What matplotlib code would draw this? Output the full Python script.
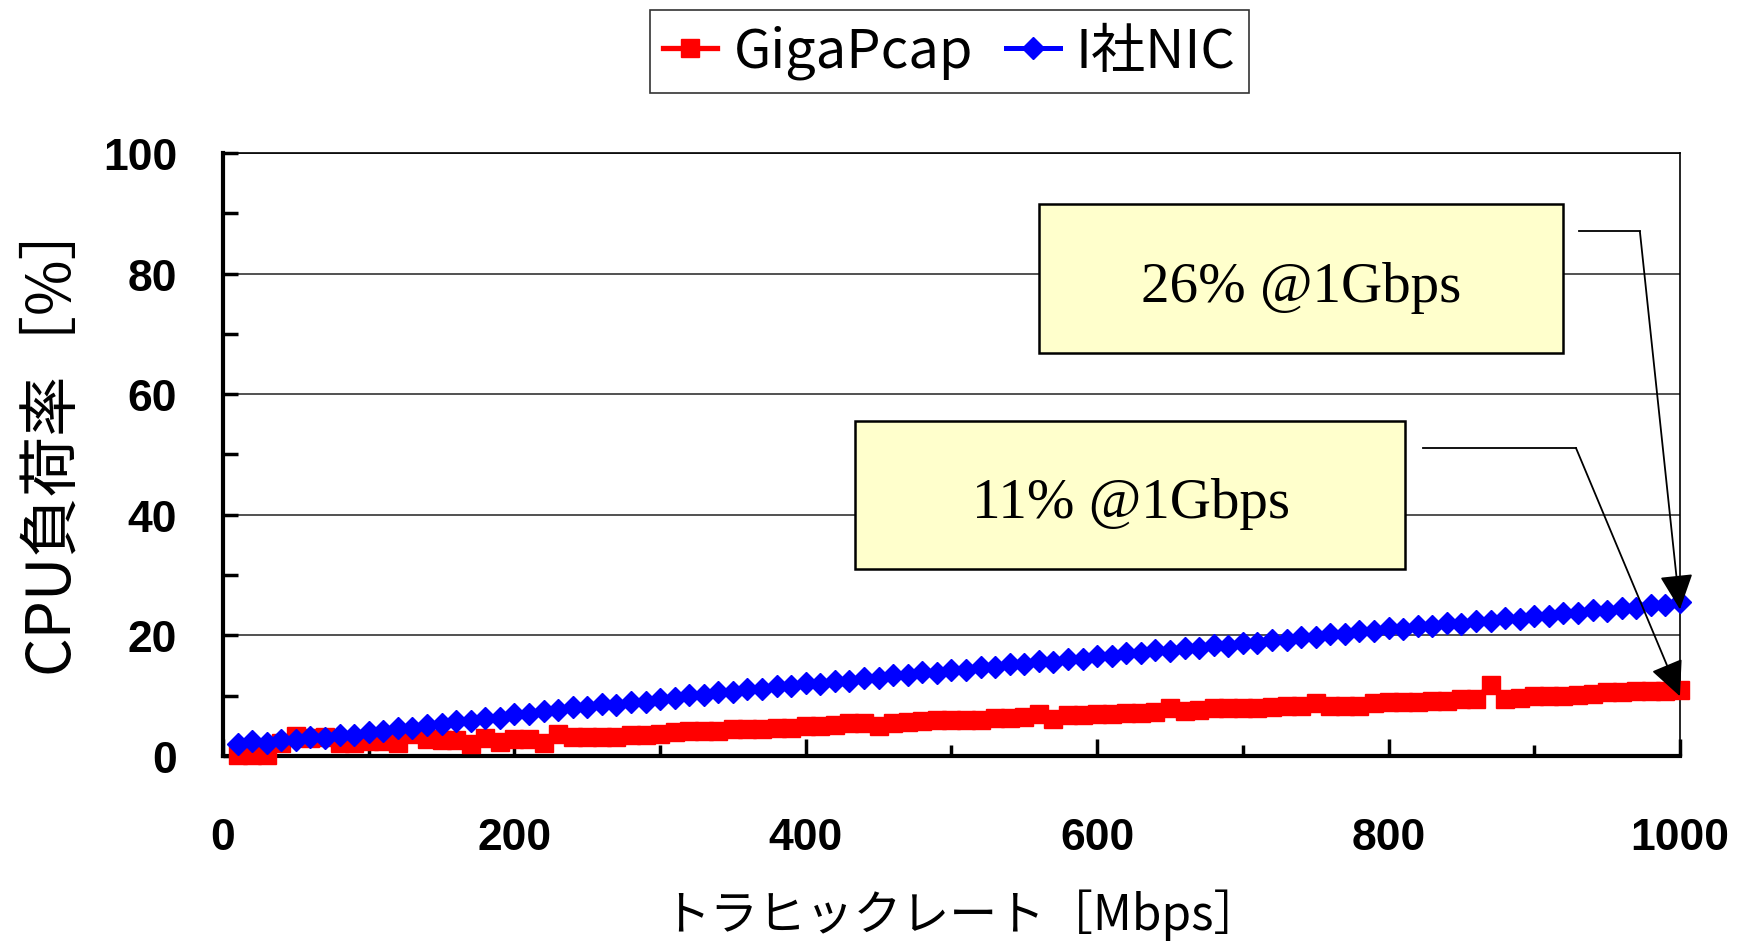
import matplotlib
matplotlib.use('Agg')
import matplotlib.pyplot as plt
from matplotlib.patches import Rectangle, FancyArrowPatch
from matplotlib.ticker import MultipleLocator
from matplotlib.font_manager import FontProperties

plt.rcParams['font.family'] = ['Noto Sans CJK JP', 'DejaVu Sans']

# traffic rate [Mbps], one sample every 10 Mbps
rate = list(range(10, 1001, 10))

gigapcap = [
    0.2, 0.2, 0.2, 2.2, 3.3, 3.0, 3.2, 2.2, 2.2, 2.5,
    2.5, 2.1, 3.6, 2.8, 2.7, 2.6, 1.9, 3.0, 2.3, 2.8,
    2.8, 2.1, 3.7, 3.1, 3.1, 3.1, 3.2, 3.5, 3.5, 3.7,
    4.0, 4.1, 4.2, 4.2, 4.4, 4.5, 4.5, 4.6, 4.6, 4.9,
    5.0, 5.2, 5.4, 5.4, 4.9, 5.5, 5.6, 5.8, 6.0, 6.0,
    6.0, 6.0, 6.3, 6.3, 6.4, 6.9, 6.1, 6.8, 6.8, 6.9,
    7.0, 7.2, 7.2, 7.3, 7.9, 7.5, 7.6, 7.9, 7.9, 8.0,
    8.0, 8.1, 8.3, 8.3, 8.8, 8.3, 8.3, 8.3, 8.7, 9.0,
    9.0, 9.0, 9.1, 9.1, 9.4, 9.5, 11.8, 9.5, 9.6, 10.0,
    10.0, 10.0, 10.1, 10.3, 10.6, 10.6, 10.7, 10.7, 10.7, 10.9,
]

inic = [
    2.0, 2.5, 2.2, 2.7, 2.6, 3.1, 3.0, 3.5, 3.4, 4.0,
    4.1, 4.6, 4.6, 5.2, 5.3, 5.8, 5.8, 6.3, 6.3, 6.9,
    7.0, 7.5, 7.6, 8.1, 8.1, 8.6, 8.5, 9.0, 9.0, 9.5,
    9.6, 10.1, 10.1, 10.6, 10.6, 11.1, 11.1, 11.6, 11.6, 12.1,
    12.0, 12.5, 12.5, 13.0, 12.9, 13.4, 13.4, 13.9, 13.8, 14.3,
    14.3, 14.8, 14.7, 15.2, 15.2, 15.7, 15.6, 16.1, 16.1, 16.6,
    16.5, 17.0, 17.0, 17.5, 17.4, 17.9, 17.9, 18.4, 18.3, 18.8,
    18.8, 19.3, 19.3, 19.8, 19.8, 20.3, 20.3, 20.8, 20.7, 21.2,
    21.1, 21.6, 21.5, 22.0, 21.9, 22.4, 22.3, 22.8, 22.7, 23.2,
    23.2, 23.7, 23.7, 24.2, 24.1, 24.6, 24.6, 25.1, 25.0, 25.5,
]

series_names = ['GigaPcap', 'I社NIC']
callout_texts = ['26% @1Gbps', '11% @1Gbps']

fig = plt.figure(figsize=(17.38, 9.45), dpi=100)
ax = fig.add_axes([0.1283, 0.199, 0.8383, 0.638])

ax.plot(rate, gigapcap, color='#ff0000', lw=3.8, marker='s', ms=13.5,
        mec='#ff0000', mfc='#ff0000', label=series_names[0], clip_on=False, zorder=4)
ax.plot(rate, inic, color='#0000ff', lw=3.6, marker='D', ms=11.5,
        mec='#0000ff', mfc='#0000ff', label=series_names[1], clip_on=False, zorder=5)

ax.set_xlim(0, 1000)
ax.set_ylim(0, 100)
ax.xaxis.set_major_locator(MultipleLocator(200))
ax.xaxis.set_minor_locator(MultipleLocator(100))
ax.yaxis.set_major_locator(MultipleLocator(20))
ax.yaxis.set_minor_locator(MultipleLocator(10))
ax.tick_params(axis='both', which='both', direction='in', width=2.5,
               top=False, right=False, color='black')
ax.tick_params(axis='y', which='both', length=11, pad=33)
ax.tick_params(axis='x', which='major', length=12, pad=44)
ax.tick_params(axis='x', which='minor', length=8)

tick_font = FontProperties(family='Liberation Sans', weight='bold', size=32)
for lbl in ax.get_xticklabels() + ax.get_yticklabels():
    lbl.set_fontproperties(tick_font)

ax.yaxis.grid(True, which='major', color='#333333', lw=1.2)
ax.set_axisbelow(True)

for side in ['left', 'bottom']:
    ax.spines[side].set_linewidth(3)
for side in ['top', 'right']:
    ax.spines[side].set_linewidth(1.2)

ax.set_xlabel('トラヒックレート［Mbps］', fontsize=34.5)
ax.xaxis.label.set_va('center')
ax.xaxis.set_label_coords(0.507, -0.262)
ax.set_ylabel('CPU負荷率［%］', fontsize=43.5)
ax.yaxis.label.set_va('center')
ax.yaxis.set_label_coords(-0.119, 0.535)

# callout boxes: (x0, y0, width, height), text centre, leader line, arrow tip
callouts = [
    ((560, 66.8, 360, 24.8), (740, 77.7), [(930.7, 87.0), (972.5, 87.0)], (1000, 24.3)),
    ((434, 31.0, 377.5, 24.6), (623, 42.0), [(823.6, 51.1), (928.6, 51.1)], (1000, 9.9)),
]
for (box, tpos, leader, tip), txt in zip(callouts, callout_texts):
    ax.add_patch(Rectangle(box[:2], box[2], box[3], facecolor='#ffffcc',
                           edgecolor='black', lw=1.8, zorder=3))
    ax.text(tpos[0], tpos[1], txt, ha='center', va='center', fontsize=41,
            family='Liberation Serif', zorder=4)
    ax.plot([leader[0][0], leader[1][0]], [leader[0][1], leader[1][1]],
            color='black', lw=1.3, zorder=6, clip_on=False)
    ax.add_patch(FancyArrowPatch(leader[1], tip,
                                 arrowstyle='-|>,head_length=1.1,head_width=0.52',
                                 mutation_scale=20, color='black', lw=1.3,
                                 shrinkA=0, shrinkB=0, zorder=6, clip_on=False))

leg = fig.legend(loc='center', bbox_to_anchor=(0.5463, 0.9444), ncol=2,
                 frameon=True, fancybox=False, edgecolor='black', fontsize=39,
                 handlelength=1.0, handletextpad=0.3, columnspacing=0.6,
                 borderpad=0.25, borderaxespad=0)
leg.get_frame().set_linewidth(1.2)

fig.savefig('out.png', dpi=100)
